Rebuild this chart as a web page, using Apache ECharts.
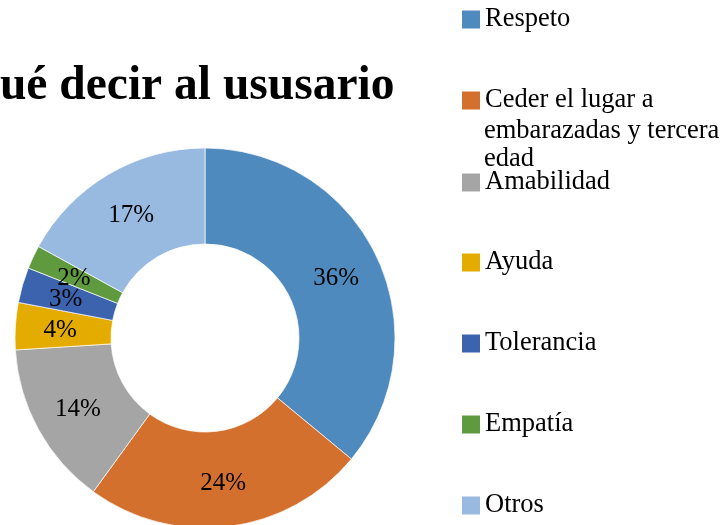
<!DOCTYPE html>
<html>
<head>
<meta charset="utf-8">
<script src="https://cdn.jsdelivr.net/npm/echarts@6/dist/echarts.min.js"></script>
<style>
  html, body { margin: 0; padding: 0; background: #fff; }
  #main { width: 722px; height: 525px; }
</style>
</head>
<body>
<div id="main"></div>
<script>
// datos del gráfico
var categorias = ['Respeto', 'Ceder el lugar a embarazadas y tercera edad', 'Amabilidad', 'Ayuda', 'Tolerancia', 'Empatía', 'Otros'];
var porcentajes = [36, 24, 14, 4, 3, 2, 17];

var colores = ['#4f8abe', '#d4702e', '#a5a5a5', '#e5ac00', '#3c63ad', '#5f9a3e', '#98b9e0'];
var fuente = '"Liberation Serif", "Times New Roman", serif';

var chart = echarts.init(document.getElementById('main'));

// una leyenda por elemento para fijar la posición vertical de cada uno
var centrosLeyenda = [20, 101, 183, 263, 344, 425, 506];
var leyendas = categorias.map(function (nombre, i) {
  return {
    orient: 'vertical',
    left: 462,
    top: centrosLeyenda[i] - 14,
    padding: 0,
    data: [nombre],
    icon: 'rect',
    itemWidth: 18,
    itemHeight: 18,
    itemGap: 0,
    selectedMode: false,
    itemStyle: { borderWidth: 0 },
    formatter: function (n) {
      return n.indexOf('Ceder') === 0 ? 'Ceder el lugar a' : n;
    },
    textStyle: { fontFamily: fuente, fontSize: 26.5, color: '#000' }
  };
});

var option = {
  color: colores,
  animation: false,
  title: {
    text: 'Qué decir al ususario',
    left: -37,
    top: 63,
    padding: 0,
    textStyle: { fontFamily: fuente, fontSize: 47.5, fontWeight: 'bold', color: '#000' }
  },
  legend: leyendas,
  graphic: [
    { type: 'text', left: 484, top: 118, style: { text: 'embarazadas y tercera', font: '26.5px ' + fuente, fill: '#000' } },
    { type: 'text', left: 484, top: 146, style: { text: 'edad', font: '26.5px ' + fuente, fill: '#000' } }
  ],
  series: [
    {
      type: 'pie',
      center: [205, 338],
      radius: [94, 190],
      startAngle: 90,
      clockwise: true,
      avoidLabelOverlap: false,
      itemStyle: { borderColor: '#fff', borderWidth: 0.7 },
      emphasis: { disabled: true },
      labelLayout: { hideOverlap: false },
      label: {
        show: true,
        position: 'inside',
        formatter: '{c}%',
        fontFamily: fuente,
        fontSize: 25,
        color: '#000',
        offset: [0, 2]
      },
      labelLine: { show: false },
      data: categorias.map(function (n, i) { return { name: n, value: porcentajes[i] }; })
    }
  ]
};

chart.setOption(option);
</script>
</body>
</html>
